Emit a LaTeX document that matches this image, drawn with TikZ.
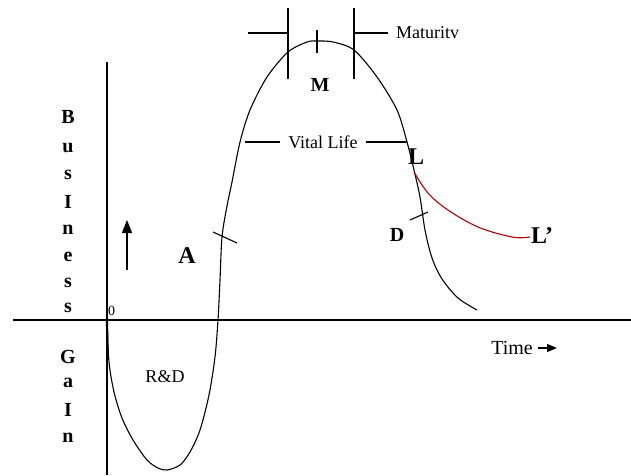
\documentclass[tikz,border=0pt]{standalone}
\usepackage{fontspec}
\setmainfont{Liberation Serif}
\usetikzlibrary{arrows.meta}

\begin{document}
\begin{tikzpicture}[x=1pt,y=-1pt,
  lett/.style={font=\fontsize{20}{22}\selectfont\bfseries,inner sep=0pt},
  biglett/.style={font=\fontsize{24}{26}\selectfont\bfseries,inner sep=0pt},
  txt/.style={font=\fontsize{18}{20}\selectfont,inner sep=0pt},
  curve/.style={line width=1.1pt},
  axisline/.style={line width=1.4pt}]
\useasboundingbox (0,0) rectangle (631,475);
% Define coordinates
\coordinate (O) at (107,320);
\coordinate (xl) at (13,320);
\coordinate (xr) at (631,320);
\coordinate (yt) at (107,62);
\coordinate (yb) at (107,475);
% Draw axes
\draw[axisline] (xl) -- (xr);
\draw[axisline] (yt) -- (yb);
% Draw life curve
\draw[line width=2.2pt] (O) -- (107.5,355);
\draw[curve] plot[smooth,tension=0.5] coordinates {(107,320) (109,362) (114,392)
  (122,418) (133,440) (147,460) (158,468) (167,470) (180,465) (190,452) (200,430)
  (209,395) (215,357) (218,320) (220,280) (222,237) (227,206) (232,182) (240,142)
  (250,110) (267,77) (288,52) (307,42) (317,41) (333,42) (354,50) (377,77)
  (397,110) (407,142) (414,170) (420,197) (425,230) (432,258) (442,279) (458,298)
  (477,310)};
% Declining branch
\draw[curve,red!70!black] plot[smooth,tension=0.6] coordinates {(414,172) (428,193)
  (448,210) (478,227) (512,237) (530,237)};
% Ticks
\coordinate (a1) at (213,232); \coordinate (a2) at (237,243);
\draw[curve] (a1) -- (a2);
\coordinate (d1) at (410,220); \coordinate (d2) at (428,212);
\draw[curve] (d1) -- (d2);
\coordinate (m1) at (288,8); \coordinate (m2) at (288,79);
\coordinate (m3) at (354,8); \coordinate (m4) at (354,79);
\coordinate (m5) at (317,30); \coordinate (m6) at (317,53);
\draw[curve] (m1) -- (m2);
\draw[curve] (m3) -- (m4);
\draw[curve] (m5) -- (m6);
\coordinate (h1) at (248,33); \coordinate (h2) at (288,33);
\coordinate (h3) at (354,33); \coordinate (h4) at (388,33);
\draw[curve] (h1) -- (h2);
\draw[curve] (h3) -- (h4);
% Labels
\node[txt,anchor=west] (matur) at (396,33) {Maturitv};
\node[lett] (M) at (320,85) {M};
\node[txt] (vital) at (323,142) {Vital Life};
\coordinate (v1) at (245,142); \coordinate (v2) at (407,142);
\draw[curve] (v1) -- ([xshift=-8pt]vital.west);
\draw[curve] ([xshift=8pt]vital.east) -- (v2);
\node[biglett] (L) at (416,157) {L};
\node[lett] (D) at (397,235) {D};
\node[biglett,anchor=west] (Lp) at (531,236) {L'};
\node[biglett] (A) at (187,256) {A};
\node[txt,font=\fontsize{14}{16}\selectfont,anchor=south west] (zero) at (108,316) {0};
\node[txt] (rd) at (165,377) {R\&D};
\node[txt,font=\fontsize{20}{22}\selectfont] (time) at (512,348) {Time};
\coordinate (t1) at (538,348); \coordinate (t2) at (557,348);
\draw[line width=1.2pt,-{Triangle[length=10pt,width=8pt]}] (t1) -- (t2);
\coordinate (u1) at (127,270); \coordinate (u2) at (127,220);
\draw[line width=1.3pt,-{Triangle[length=13pt,width=10pt]}] (u1) -- (u2);
% Vertical axis title
\foreach \ch/\yy [count=\i] in {B/117,u/148,s/175,I/202,n/230,e/257,s/283,s/308,G/357,a/383,I/410,n/438}
  \node[lett] (ax\i) at (68,\yy) {\ch};
\end{tikzpicture}
\end{document}
